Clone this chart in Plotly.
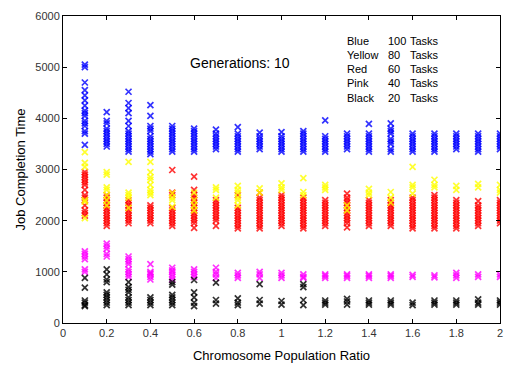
import plotly.graph_objects as go

ratios = [0.1, 0.2, 0.3, 0.4, 0.5, 0.6, 0.7, 0.8, 0.9, 1.0,
          1.1, 1.2, 1.3, 1.4, 1.5, 1.6, 1.7, 1.8, 1.9, 2.0]

blue_100 = [
    [5050, 5000, 4700, 4550, 4450, 4350, 4250, 4150, 4100, 4050, 3950, 3900, 3850, 3750, 3700, 3480],
    [4120, 3950, 3900, 3800, 3750, 3700, 3650, 3600, 3550, 3500, 3450],
    [4520, 4300, 4200, 4100, 3950, 3850, 3750, 3700, 3650, 3600, 3550, 3500, 3450, 3400, 3350],
    [4260, 4050, 3850, 3800, 3750, 3650, 3600, 3550, 3500, 3450, 3400, 3350, 3300],
    [3850, 3800, 3750, 3700, 3650, 3600, 3550, 3500, 3450, 3400, 3350],
    [3800, 3750, 3700, 3650, 3600, 3550, 3500, 3450, 3400, 3350],
    [3780, 3700, 3650, 3600, 3550, 3500, 3450, 3400],
    [3830, 3700, 3650, 3600, 3550, 3500, 3450, 3400, 3350],
    [3720, 3650, 3600, 3550, 3500, 3450, 3400],
    [3730, 3650, 3600, 3550, 3500, 3450, 3400, 3350],
    [3750, 3700, 3650, 3600, 3550, 3500, 3450, 3400, 3350],
    [3960, 3650, 3600, 3550, 3500, 3450, 3400, 3350],
    [3700, 3650, 3600, 3550, 3500, 3450, 3400],
    [3890, 3700, 3650, 3600, 3550, 3500, 3450, 3400, 3350],
    [3900, 3800, 3750, 3700, 3600, 3550, 3500, 3400, 3350],
    [3700, 3650, 3600, 3550, 3500, 3450, 3400, 3350],
    [3700, 3650, 3600, 3550, 3500, 3450, 3400, 3350],
    [3700, 3650, 3600, 3550, 3500, 3450, 3400],
    [3700, 3650, 3600, 3550, 3500, 3450, 3400, 3350],
    [3700, 3650, 3600, 3550, 3500, 3450, 3400],
]

red_60 = [
    [2950, 2900, 2850, 2800, 2750, 2700, 2600, 2500, 2450, 2400, 2300, 2200, 2150, 2100],
    [2500, 2450, 2400, 2350, 2300, 2250, 2200, 2150, 2100, 2050, 2000, 1950, 1900],
    [2400, 2350, 2300, 2250, 2200, 2150, 2100, 2050, 2000, 1950],
    [2300, 2250, 2200, 2150, 2100, 2050, 2000, 1950],
    [2990, 2550, 2500, 2250, 2200, 2150, 2100, 2050, 2000, 1950, 1900],
    [2860, 2600, 2500, 2450, 2400, 2350, 2300, 2250, 2200, 2150, 2100, 2050, 2000, 1950, 1860],
    [2400, 2350, 2300, 2250, 2200, 2150, 2100, 2050, 2000, 1900],
    [2500, 2250, 2200, 2150, 2100, 2050, 2000, 1950, 1900, 1850],
    [2550, 2450, 2400, 2350, 2300, 2250, 2200, 2150, 2100, 2050, 2000, 1950, 1900, 1850],
    [2500, 2450, 2400, 2350, 2300, 2250, 2200, 2150, 2100, 2050, 2000, 1950, 1900],
    [2450, 2400, 2350, 2300, 2250, 2200, 2150, 2100, 2050, 2000, 1950, 1900, 1850],
    [2400, 2350, 2300, 2250, 2200, 2150, 2100, 2050, 2000, 1950, 1900],
    [2530, 2450, 2400, 2350, 2300, 2250, 2200, 2150, 2100, 2050, 2000, 1950, 1870],
    [2400, 2350, 2300, 2250, 2200, 2150, 2100, 2050, 2000, 1950, 1900],
    [2400, 2350, 2300, 2250, 2200, 2150, 2100, 2050, 2000, 1950, 1900],
    [2450, 2400, 2350, 2300, 2250, 2200, 2150, 2100, 2050, 2000, 1950, 1900, 1850],
    [2500, 2450, 2400, 2350, 2300, 2250, 2200, 2150, 2100, 2050, 2000, 1950, 1900, 1850],
    [2400, 2350, 2300, 2250, 2200, 2150, 2100, 2050, 2000, 1950, 1900, 1850],
    [2380, 2300, 2250, 2200, 2150, 2100, 2050, 2000, 1950, 1900],
    [2400, 2350, 2300, 2250, 2200, 2150, 2100, 2050, 2000, 1950],
]

yellow_80 = [
    [3340, 3130, 3050, 2400, 2370, 2050],
    [2950, 2900, 2650, 2600, 2500, 2400, 2300],
    [3150, 2550, 2500, 2450, 2250],
    [3150, 2950, 2850, 2800, 2700, 2600, 2550, 2500],
    [2540, 2450, 2400, 2270],
    [2550, 2400, 2300, 2200],
    [2650, 2600, 2450],
    [2680, 2600, 2550, 2450, 2400, 2300],
    [2630, 2550],
    [2730, 2650, 2600],
    [2830, 2560, 2500],
    [2700, 2650, 2600],
    [2300, 2200],
    [2620, 2550, 2500],
    [2560, 2450, 2350],
    [3050, 2700, 2650, 2530],
    [2800, 2700, 2650],
    [2680, 2600],
    [2720, 2650],
    [2700, 2600, 2550],
]

pink_40 = [
    [1400, 1350, 1300, 1250, 1050, 1000],
    [1550, 1500, 1450, 1350, 1300],
    [1300, 1250, 1200, 1150, 1050, 1000, 950, 900],
    [1150, 1000, 970, 950, 900, 850],
    [1080, 1030, 1000, 950, 900, 850],
    [1050, 1000, 950, 900],
    [1080, 1000, 950, 880],
    [980, 930, 880],
    [1000, 950, 880],
    [980, 930, 880],
    [950, 900, 880],
    [950, 920, 880],
    [950, 920, 880],
    [950, 920, 880],
    [950, 920, 880],
    [940, 900],
    [930, 890],
    [980, 930, 880],
    [950, 900],
    [950, 900],
]

black_20 = [
    [880, 690, 440, 400, 350, 330],
    [1050, 950, 850, 800, 600, 550, 500, 450, 400, 350],
    [800, 700, 650, 600, 500, 450, 400, 350],
    [500, 450, 400, 350],
    [800, 750, 550, 500, 450, 400, 350],
    [840, 600, 500, 400, 330],
    [790, 450, 380],
    [480, 400, 350],
    [760, 450, 380],
    [430, 360],
    [760, 700, 450, 350],
    [440, 400, 360],
    [470, 420, 360],
    [440, 400, 360],
    [440, 400, 360],
    [400, 350],
    [440, 400, 360],
    [440, 400, 360],
    [460, 400, 360],
    [440, 400, 360],
]

legend_names = ["Blue", "Yellow", "Red", "Pink", "Black"]
legend_counts = ["100", "80", "60", "40", "20"]
title_text = "Generations: 10"

series = [
    (blue_100, "#0000ff"),
    (red_60, "#ff0000"),
    (yellow_80, "#ffff00"),
    (pink_40, "#ff00ff"),
    (black_20, "#000000"),
]

fig = go.Figure()
for vals, col in series:
    xs, ys = [], []
    for r, col_vals in zip(ratios, vals):
        for v in col_vals:
            xs.append(r)
            ys.append(v)
    fig.add_trace(go.Scatter(
        x=xs, y=ys, mode="markers", showlegend=False,
        marker=dict(symbol="x-thin", size=6, color=col, opacity=0.8,
                    line=dict(width=1.7, color=col)),
    ))

FONT = "Liberation Sans, Arial"
axis_common = dict(showline=True, linecolor="black", linewidth=1, mirror="ticks",
                   ticks="inside", ticklen=4, tickcolor="black", showgrid=False,
                   zeroline=False,
                   tickfont=dict(family=FONT, size=11, color="#333"))

fig.update_xaxes(range=[0, 2], tickvals=[i / 5 for i in range(11)],
                 title=dict(text="Chromosome Population Ratio", standoff=12,
                            font=dict(family=FONT, size=13, color="black")),
                 **axis_common)
fig.update_yaxes(range=[0, 6000], tickvals=[0, 1000, 2000, 3000, 4000, 5000, 6000],
                 title=dict(text="Job Completion Time", standoff=6,
                            font=dict(family=FONT, size=13, color="black")),
                 **axis_common)

L, R, T, B = 63, 503, 16, 323
def px(xp):
    return (xp - L) / (R - L)
def py(yp):
    return (B - yp) / (B - T)

anns = [dict(x=px(241), y=py(63), xref="x domain", yref="y domain", text=title_text,
             showarrow=False, xanchor="center", yanchor="middle",
             font=dict(family=FONT, size=14, color="black"))]
line_y = [41, 55, 69, 83, 98]
for name, cnt, yy in zip(legend_names, legend_counts, line_y):
    for xpos, txt in [(347, name), (388, cnt), (410, "Tasks")]:
        anns.append(dict(x=px(xpos), y=py(yy), xref="x domain", yref="y domain",
                         text=txt, showarrow=False, xanchor="left", yanchor="middle",
                         font=dict(family=FONT, size=11, color="black")))

fig.update_layout(
    width=507, height=367,
    margin=dict(l=L, r=507 - R, t=T, b=367 - B),
    plot_bgcolor="white", paper_bgcolor="white",
    annotations=anns,
)

fig.write_html("out.html")
